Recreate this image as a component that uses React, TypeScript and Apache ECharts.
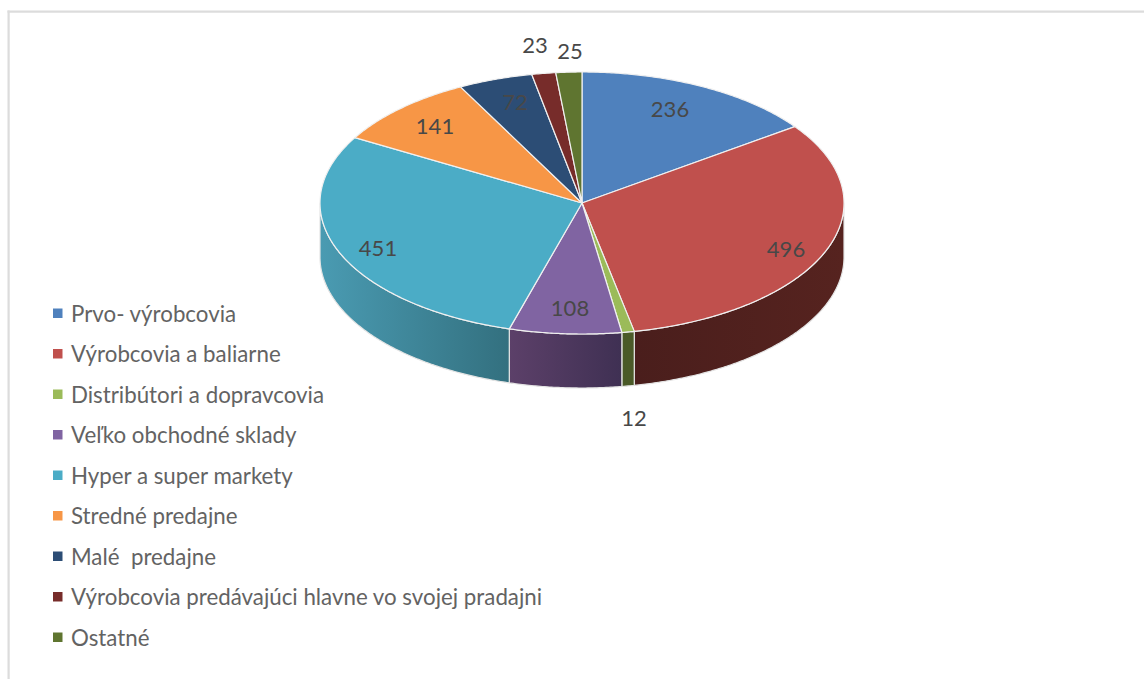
import React, { useEffect, useRef } from "react";
import * as echarts from "echarts";

const categories = [
  "Prvo- výrobcovia",
  "Výrobcovia a baliarne",
  "Distribútori a dopravcovia",
  "Veľko obchodné sklady",
  "Hyper a super markety",
  "Stredné predajne",
  "Malé  predajne",
  "Výrobcovia predávajúci hlavne vo svojej pradajni",
  "Ostatné",
];
const values = [236, 496, 12, 108, 451, 141, 72, 23, 25];
const topColors = ["#4f81bd", "#c0504d", "#9bbb59", "#8064a2", "#4bacc6", "#f79646", "#2c4d75", "#772c2a", "#5f7530"];
const sideStart = ["#2f4d71", "#56231f", "#4a5a28", "#5c4069", "#4a9bb2", "#94592a", "#1a2e46", "#471a19", "#394619"];
const sideEnd = ["#2f4d71", "#4a1e1c", "#4a5a28", "#3f3053", "#33707f", "#94592a", "#1a2e46", "#471a19", "#394619"];
const labelDx = [88, 204, 52, -12, -204, -147, -67, -47, -12];
const labelDy = [-95, 45, 214, 104, 44, -78, -102, -159, -153];

const CX = 582;
const CY = 203;
const RX = 262;
const RY = 131;
const DEPTH = 54;
const total = values.reduce((a, b) => a + b, 0);
const FONT = "Lato";

function pt(deg: number, dy = 0): number[] {
  const r = (deg * Math.PI) / 180;
  return [CX + RX * Math.sin(r), CY - RY * Math.cos(r) + dy];
}

function arc(from: number, to: number, dy = 0): number[][] {
  const pts: number[][] = [];
  const n = Math.max(2, Math.ceil((to - from) * 2));
  for (let i = 0; i <= n; i++) pts.push(pt(from + ((to - from) * i) / n, dy));
  return pts;
}

function makeRenderItem(idx: number) {
  const before = values.slice(0, idx).reduce((a, b) => a + b, 0);
  const start = (before / total) * 360;
  const end = ((before + values[idx]) / total) * 360;
  return () => {
    const children: any[] = [];
    const sFrom = Math.max(start, 90);
    const sTo = Math.min(end, 270);
    if (sTo > sFrom) {
      children.push({
        type: "polygon",
        z2: 1,
        shape: { points: [...arc(sFrom, sTo), ...arc(sFrom, sTo, DEPTH).reverse()] },
        style: {
          fill: new echarts.graphic.LinearGradient(0, 0, 1, 0, [
            { offset: 0, color: sTo > 180 ? sideStart[idx] : sideEnd[idx] },
            { offset: 1, color: sTo > 180 ? sideEnd[idx] : sideStart[idx] },
          ]),
          stroke: "#e4e4e4",
          lineWidth: 1.2,
          lineJoin: "round",
        },
      });
    }
    children.push({
      type: "polygon",
      z2: 2,
      shape: { points: [[CX, CY], ...arc(start, end)] },
      style: { fill: topColors[idx], stroke: "#f0f0f0", lineWidth: 1.2, lineJoin: "round" },
    });
    children.push({
      type: "text",
      z2: 10,
      style: {
        text: String(values[idx]),
        x: CX + labelDx[idx],
        y: CY + labelDy[idx],
        align: "center",
        verticalAlign: "middle",
        fontFamily: FONT,
        fontSize: 22,
        fill: "#484848",
      },
    });
    return { type: "group", children };
  };
}

export default function App() {
  const ref = useRef<HTMLDivElement>(null);
  useEffect(() => {
    const chart = echarts.init(ref.current!, undefined, { renderer: "svg" });
    chart.setOption({
      animation: false,
      backgroundColor: "#ffffff",
      legend: {
        orient: "vertical",
        left: 48,
        top: 297,
        icon: "rect",
        itemWidth: 9.5,
        itemHeight: 9.5,
        itemGap: 18,
        selectedMode: false,
        data: categories,
        textStyle: { fontFamily: FONT, fontSize: 22.3, color: "#636363", padding: [0, 0, 0, 3.5], height: 22.5, lineHeight: 22.5 },
      },
      graphic: [
        { type: "rect", shape: { x: 7.5, y: 10.5, width: 1136.5, height: 2.2 }, style: { fill: "#dcdcdc" } },
        { type: "rect", shape: { x: 7.5, y: 10.5, width: 2.2, height: 668.5 }, style: { fill: "#dcdcdc" } },
      ],
      series: categories.map((name, i) => ({
        type: "custom",
        name,
        coordinateSystem: "none",
        silent: true,
        itemStyle: { color: topColors[i] },
        data: [values[i]],
        renderItem: makeRenderItem(i),
      })),
    });
    return () => chart.dispose();
  }, []);
  return <div ref={ref} style={{ position: "absolute", left: 0, top: 0, width: 1144, height: 679 }} />;
}
